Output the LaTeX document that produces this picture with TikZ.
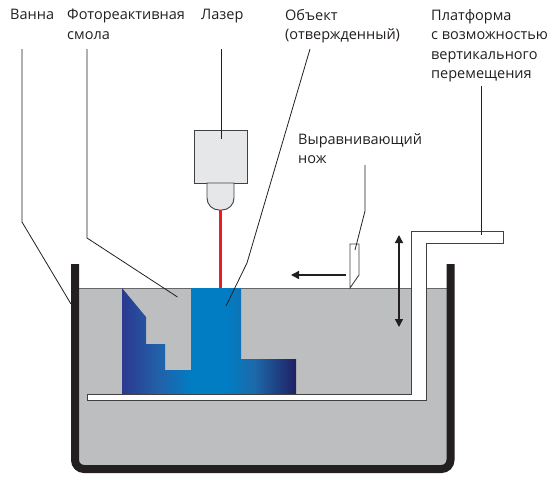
\documentclass[tikz,border=0pt]{standalone}
\usepackage{fontspec}
\setmainfont{Open Sans}
\usetikzlibrary{arrows.meta}
\definecolor{resin}{RGB}{188,190,192}
\definecolor{tank}{RGB}{35,31,32}
\definecolor{wire}{RGB}{65,64,66}
\definecolor{housing}{RGB}{230,231,232}
\definecolor{beam}{RGB}{237,28,36}
\definecolor{objleft}{RGB}{43,57,144}
\definecolor{objmidleft}{RGB}{35,95,168}
\definecolor{objmid}{RGB}{0,125,195}
\definecolor{objmidright}{RGB}{28,105,170}
\definecolor{objright}{RGB}{32,32,100}
\pgfdeclarehorizontalshading{objfill}{100bp}{
  color(0bp)=(objleft);
  color(25bp)=(objleft);
  color(35bp)=(objmidleft);
  color(45bp)=(objmid);
  color(55bp)=(objmid);
  color(63bp)=(objmidright);
  color(75bp)=(objright);
  color(100bp)=(objright)}
\tikzset{
  caption/.style={anchor=north west,align=left,inner sep=0pt,text=tank,font=\fontsize{14.5}{19.5}\selectfont},
  leader/.style={draw=tank,line width=0.8pt},
  outline/.style={draw=wire,line width=0.9pt},
  motion/.style={draw=tank,line width=1.5pt},
  motiontip/.style={arrows={-Triangle[length=8pt,width=8pt]}},
  liftline/.style={arrows={Triangle[length=8pt,width=8pt]-Triangle[length=8pt,width=8pt]}},
}
\begin{document}
\begin{tikzpicture}[x=1pt,y=1pt]
    \useasboundingbox (0,0) rectangle (558,-480);
    \fill [resin] (75,-288) rectangle (451,-470);
    \draw [outline,draw=wire!80] (75,-288) -- (451,-288);
    \shade [shading=objfill] (122,-288) -- (146,-317) -- (146,-344) -- (165,-344) -- (165,-370) -- (191,-370) -- (191,-288) -- (241,-288) -- (241,-359) -- (296,-359) -- (296,-394) -- (122,-394) -- cycle;
    \draw [outline,fill=white] (87,-394) -- (411,-394) -- (411,-231) -- (503,-231) -- (503,-243) -- (426,-243) -- (426,-400.5) -- (87,-400.5) -- cycle;
    \draw [tank,line width=8pt,rounded corners=9pt] (75,-264) -- (75,-469) -- (450.5,-469) -- (450.5,-264);
    \draw [outline,fill=white] (350,-244) -- (359,-244) -- (359,-275) -- (350,-288) -- cycle;
    \node (laser) [outline,fill=housing,minimum width=53pt,minimum height=53pt,inner sep=0pt] at (220.5,-156.5) {};
    \draw [outline,fill=housing] (207,-183) -- (207,-198) to [out=-90,in=180] (219,-210) -- (222,-210) to [out=0,in=-90] (234,-198) -- (234,-183) -- cycle;
    \coordinate (nozzle) at (220.5,-210);
    \coordinate (spot) at (220.5,-288);
    \draw [beam,line width=2.6pt] (nozzle) -- (spot);
    \node (vanna) [caption] at (10,-9) {Ванна};
    \node (smola) [caption] at (67,-9) {Фотореактивная\\смола};
    \node (lazer) [caption] at (201,-9) {Лазер};
    \node (obekt) [caption] at (285,-9) {Объект\\(отвержденный)};
    \node (platforma) [caption] at (431,-9) {Платформа\\с возможностью\\вертикального\\перемещения};
    \node (nozh) [caption] at (298,-133) {Выравнивающий\\нож};
    \coordinate (vannafree) at (22,-49);
    \coordinate (vannabend) at (22,-222);
    \coordinate (vannawall) at (71,-304);
    \draw [leader] (vannafree) -- (vannabend) -- (vannawall);
    \coordinate (smolafree) at (87,-49);
    \coordinate (smolabend) at (87,-238);
    \coordinate (smolaend) at (177.5,-297);
    \draw [leader] (smolafree) -- (smolabend) -- (smolaend);
    \coordinate (lazerfree) at (221,-49);
    \coordinate (lazerend) at (221,-139);
    \draw [leader] (lazerfree) -- (lazerend);
    \coordinate (obektfree) at (310,-49);
    \coordinate (obektbend) at (247,-263);
    \coordinate (obektend) at (226,-306);
    \draw [leader] (obektfree) -- (obektbend) -- (obektend);
    \coordinate (nozhfree) at (365,-165);
    \coordinate (nozhbend) at (365,-211);
    \coordinate (nozhend) at (355,-250);
    \draw [leader] (nozhfree) -- (nozhbend) -- (nozhend);
    \coordinate (platfree) at (481,-86);
    \coordinate (platend) at (481,-235);
    \draw [leader] (platfree) -- (platend);
    \coordinate (movestart) at (346,-275);
    \coordinate (moveend) at (291,-275);
    \draw [motion,motiontip] (movestart) -- (moveend);
    \coordinate (liftup) at (399,-235);
    \coordinate (liftdown) at (399,-327);
    \draw [motion,liftline] (liftup) -- (liftdown);
\end{tikzpicture}
\end{document}
